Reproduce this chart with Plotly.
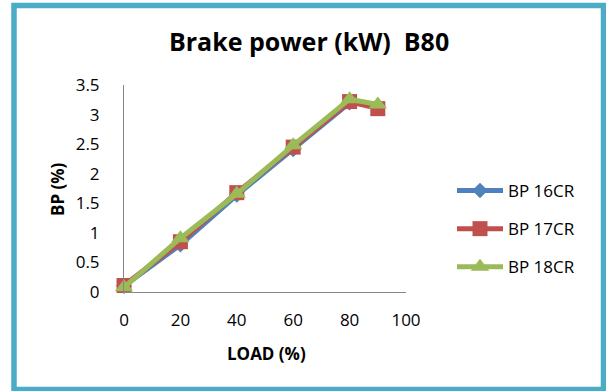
import plotly.graph_objects as go

load = [0, 20, 40, 60, 80, 90]
bp16 = [0.10, 0.80, 1.64, 2.41, 3.20, 3.15]
bp17 = [0.11, 0.85, 1.68, 2.45, 3.22, 3.10]
bp18 = [0.08, 0.91, 1.66, 2.48, 3.26, 3.17]
names = ["BP 16CR", "BP 17CR", "BP 18CR"]
colors = ["#4F81BD", "#C0504D", "#9BBB59"]
symbols = ["diamond", "square", "triangle-up"]
sizes = [12, 15, 16]
x_ticks = [0, 20, 40, 60, 80, 100]
y_ticks = [0, 0.5, 1, 1.5, 2, 2.5, 3, 3.5]
y_tick_text = ["0", "0.5", "1", "1.5", "2", "2.5", "3", "3.5"]

W, H = 606, 391
L, R, T, B = 124, 200, 85, 99
pw, ph = W - L - R, H - T - B

def px(x):
    return (x - L) / pw

def py(y):
    return (H - B - y) / ph

FONT = "Open Sans"

fig = go.Figure()
for i, ys in enumerate([bp16, bp17, bp18]):
    fig.add_trace(go.Scatter(
        x=load, y=ys, name=names[i], mode="lines+markers",
        line=dict(color=colors[i], width=5),
        marker=dict(symbol=symbols[i], size=sizes[i], color=colors[i]),
        cliponaxis=False, legendgroup=names[i],
    ))

fig.update_layout(
    width=W, height=H,
    margin=dict(l=L, r=R, t=T, b=B),
    paper_bgcolor="white", plot_bgcolor="white",
    font=dict(family=FONT, color="#000000", size=17),
    title=dict(text="<b>Brake power (kW)  B80</b>", x=0.51, xanchor="center",
               y=1 - 42 / H, yanchor="middle", yref="container",
               font=dict(family=FONT, size=25, color="#000000")),
    showlegend=True,
    legend=dict(x=px(452), y=py(173), xanchor="left", yanchor="top",
                font=dict(family=FONT, size=17, color="#000000"),
                tracegroupgap=13, itemwidth=46, bgcolor="rgba(0,0,0,0)"),
    xaxis=dict(range=[0, 100], tickvals=x_ticks, showgrid=False, zeroline=False,
               showline=True, linecolor="#868686", linewidth=1, ticks="",
               ticklabelstandoff=13, tickfont=dict(size=17, color="#000000"),
               fixedrange=True),
    yaxis=dict(range=[0, 3.5], tickvals=y_ticks, ticktext=y_tick_text,
               showgrid=False, zeroline=False,
               showline=True, linecolor="#868686", linewidth=1, ticks="",
               ticklabelstandoff=20, tickfont=dict(size=17, color="#000000"),
               fixedrange=True),
    annotations=[
        dict(text="<b>LOAD (%)</b>", xref="paper", yref="paper",
             x=px(266), y=py(353), xanchor="center", yanchor="middle",
             showarrow=False, font=dict(family=FONT, size=17, color="#000000")),
        dict(text="<b>BP (%)</b>", xref="paper", yref="paper",
             x=px(57), y=py(189), xanchor="center", yanchor="middle",
             textangle=-90, showarrow=False,
             font=dict(family=FONT, size=17, color="#000000")),
    ],
    shapes=[
        dict(type="rect", xref="paper", yref="paper",
             x0=px(14), x1=px(603.5), y0=py(389.5), y1=py(5.5),
             line=dict(color="#4BACC6", width=5.5), fillcolor="rgba(0,0,0,0)",
             layer="below"),
    ],
)

fig.write_html("out.html")
